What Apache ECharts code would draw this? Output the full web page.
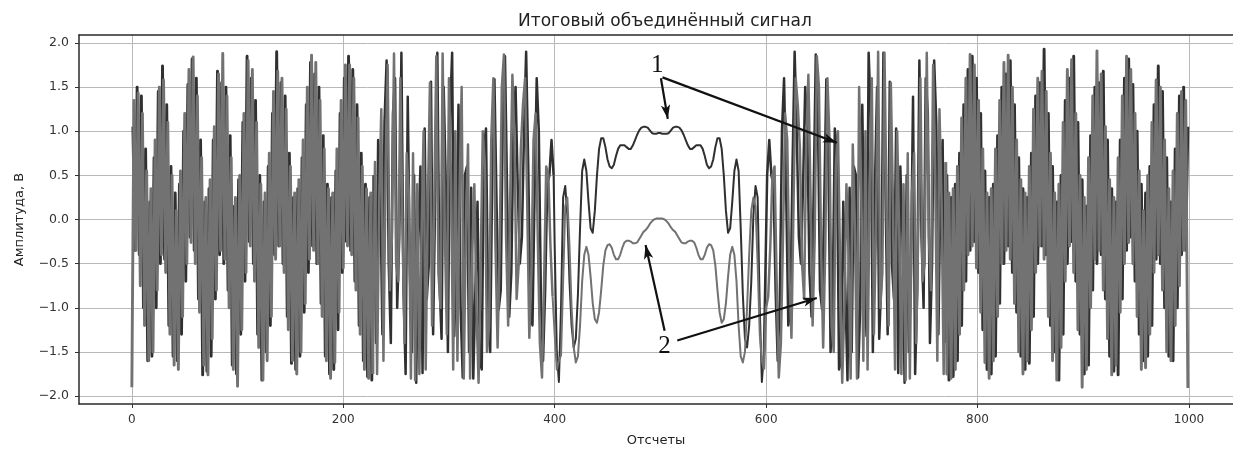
<!DOCTYPE html>
<html>
<head>
<meta charset="utf-8">
<title>Итоговый объединённый сигнал</title>
<script src="https://cdn.jsdelivr.net/npm/echarts@6.0.0/dist/echarts.min.js"></script>
<style>
  html, body { margin: 0; padding: 0; background: #fff; }
  #chart { width: 1233px; height: 452px; }
</style>
</head>
<body>
<div id="chart"></div>
<script>
// отсчёты идут с шагом 2, у каждого куска свой первый отсчёт
const STEP = 2;
const xTicks = [0, 200, 400, 600, 800, 1000];
const yTicks = [-2, -1.5, -1, -0.5, 0, 0.5, 1, 1.5, 2];

// сигнал 2 (светлый)
const lightStarts = [0, 230, 400, 600, 771];
const lightEdgeLeft = [
  -1.9, 1.35, -0.35, 1.43, -0.75, 1.2, -1.2, 0.55, -1.6, 0.35,
  -1.5, 0.9, -0.8, 1.5, -0.4, 1.58, -0.6, 1.1, -1.3, 0.5,
  -1.65, 0.1, -1.7, 0.55, -1.1, 1.2, -0.5, 1.7, -0.26, 1.84,
  -0.5, 1.4, -1.05, 0.7, -1.65, 0.25, -1.76, 0.45, -1.35, 1.05,
  -0.8, 1.65, -0.35, 1.88, -0.45, 1.4, -1.0, 0.7, -1.7, 0.25,
  -1.89, 0.5, -1.25, 1.2, -0.6, 1.8, -0.3, 1.7, -0.7, 1.1,
  -1.45, 0.4, -1.82, 0.3, -1.6, 0.75, -1.1, 1.45, -0.45, 1.68,
  -0.3, 1.6, -0.6, 1.25, -1.25, 0.6, -1.6, 0.3, -1.75, 0.45,
  -1.5, 0.9, -0.95, 1.5, -0.45, 1.86, -0.35, 1.78, -0.5, 1.35,
  -1.1, 0.8, -1.6, 0.35, -1.8, 0.3, -1.62, 0.8, -1.05, 1.35,
  -0.55, 1.75, -0.3, 1.75, -0.4, 1.6, -0.8, 1.15, -1.3, 0.6,
  -1.7, 0.35, -1.8, 0.3, -1.75
];
const lightWaveLeft = [
  0.65, -1.75, 0.2, 1.25, -1.6, 0.5, 1.75, -0.8, -0.2, 1.88,
  -0.5, -0.7, 1.6, -0.1, -1.4, 0.75, 0.3, -1.8, 0.75, -1.82,
  0.4, -1.75, -0.2, 1.0, -1.7, 0.2, 1.55, -1.2, 0.1, 1.85,
  -0.6, -1.0, 1.88, -0.1, -1.3, 1.6, 0.4, -1.7, 1.0, -1.6,
  0.3, 1.5, -1.8, -0.1, 0.85, -1.8, -0.4, 0.4, -1.0, -1.85,
  -0.5, 1.0, 0.6, -1.5, -1.2, 0.9, 1.6, -0.3, -1.45, -0.3,
  1.5, 1.87, -0.2, -1.2, 0.3, 1.64, 0.9, -0.9, -0.5, 0.8,
  1.3, 1.6, 0.2, -1.34, -0.6, 0.9, 1.2, -0.2, -1.4, -1.79,
  -0.7, 0.6, 0.5, -0.3, -0.87
];
const lightCentre = [
  -1.3, -1.7, -1.6, -1.54, -0.7, 0.15, 0.25, -0.3, -1.0, -1.45,
  -1.62, -1.55, -1.2, -0.7, -0.4, -0.31, -0.4, -0.65, -0.95, -1.13,
  -1.17, -1.05, -0.8, -0.52, -0.35, -0.29, -0.28, -0.32, -0.4, -0.45,
  -0.45, -0.4, -0.32, -0.26, -0.24, -0.24, -0.25, -0.27, -0.27, -0.26,
  -0.22, -0.18, -0.14, -0.12, -0.09, -0.05, -0.02, 0.0, 0.01, 0.01,
  0.01, 0.01, 0.0, -0.02, -0.05, -0.09, -0.12, -0.14, -0.18, -0.22,
  -0.26, -0.27, -0.27, -0.25, -0.24, -0.24, -0.26, -0.32, -0.4, -0.45,
  -0.45, -0.4, -0.32, -0.28, -0.29, -0.35, -0.52, -0.8, -1.05, -1.17,
  -1.13, -0.95, -0.65, -0.4, -0.31, -0.4, -0.7, -1.2, -1.55, -1.62,
  -1.5, -1.0, -0.4, 0.1, 0.25, 0.15, -0.5, -1.3, -1.6, -1.7
];
const lightWaveRight = [
  -1.0, -0.87, -0.3, 0.5, 0.6, -0.7, -1.79, -1.4, -0.2, 1.2,
  0.9, -0.6, -1.34, 0.2, 1.6, 1.3, 0.8, -0.5, -0.9, 0.9,
  1.64, 0.3, -1.2, -0.2, 1.85, 1.5, -0.3, -1.45, -0.3, 1.6,
  0.9, -1.2, -1.5, 0.6, 1.0, -0.5, -1.85, -1.0, 0.4, -0.4,
  -1.8, 0.85, -0.1, -1.8, 1.5, 0.3, -1.6, 1.0, -1.7, 0.4,
  1.6, -1.3, -0.1, 1.9, -1.0, -0.6, 1.89, 0.1, -1.2, 1.55,
  0.2, -1.7, 1.0, -0.2, -1.75, 0.4, -1.82, 0.75, -1.8, 0.3,
  0.75, -1.4, -0.1, 1.6, -0.7, -0.5, 1.89, -0.2, -0.8, 1.75,
  0.5, -1.6, 1.25, 0.2, -1.75, 0.65
];
const lightEdgeRight = [
  -1.75, 0.3, -1.8, 0.35, -1.7,
  0.6, -1.3, 1.15, -0.8, 1.6, -0.4, 1.87, -0.3, 1.75, -0.55,
  1.35, -1.05, 0.8, -1.62, 0.3, -1.8, 0.35, -1.6, 0.8, -1.1,
  1.35, -0.5, 1.78, -0.35, 1.86, -0.45, 1.5, -0.95, 0.9, -1.5,
  0.45, -1.75, 0.3, -1.6, 0.6, -1.25, 1.25, -0.6, 1.6, -0.3,
  1.68, -0.45, 1.45, -1.1, 0.75, -1.6, 0.3, -1.82, 0.4, -1.45,
  1.1, -0.7, 1.7, -0.3, 1.81, -0.6, 1.2, -1.25, 0.5, -1.9,
  0.25, -1.7, 0.7, -1.0, 1.4, -0.45, 1.91, -0.35, 1.65, -0.8,
  1.05, -1.35, 0.45, -1.76, 0.25, -1.65, 0.7, -1.05, 1.4, -0.5,
  1.85, -0.26, 1.7, -0.5, 1.2, -1.1, 0.55, -1.7, 0.1, -1.68,
  0.5, -1.3, 1.1, -0.6, 1.58, -0.4, 1.5, -0.8, 0.9, -1.5,
  0.35, -1.6, 0.55, -1.2, 1.2, -0.75, 1.45, -0.35, 1.35, -1.91
];

// сигнал 1 (тёмный)
const darkStarts = [1, 231, 400, 601, 771];
const darkEdgeLeft = [
  1.05, -0.35, 1.5, -0.4, 1.4, -1.0, 0.8, -1.6, 0.2, -1.55,
  0.7, -1.0, 1.45, -0.5, 1.74, -0.45, 1.3, -1.2, 0.6, -1.55,
  0.3, -1.6, 0.4, -1.3, 1.0, -0.7, 1.53, -0.2, 1.82, -0.35,
  1.6, -0.9, 0.9, -1.76, 0.2, -1.72, 0.35, -1.55, 0.9, -0.9,
  1.68, -0.4, 1.55, -0.5, 1.5, -0.8, 0.95, -1.65, 0.15, -1.75,
  0.45, -1.3, 1.1, -0.7, 1.85, -0.25, 1.6, -0.5, 1.35, -1.3,
  0.5, -1.82, 0.2, -1.5, 0.6, -1.2, 1.2, -0.4, 1.9, -0.3,
  1.55, -0.5, 1.4, -1.1, 0.75, -1.63, 0.25, -1.7, 0.35, -1.55,
  0.7, -1.05, 1.3, -0.6, 1.78, -0.3, 1.65, -0.5, 1.5, -0.95,
  0.95, -1.55, 0.4, -1.75, 0.25, -1.7, 0.55, -1.25, 1.2, -0.6,
  1.6, -0.25, 1.85, -0.35, 1.7, -0.7, 1.3, -1.2, 0.75, -1.6,
  0.4, -1.78, 0.25, -1.82, 0.5
];
const darkWaveLeft = [
  -1.4, 0.9, 0.4, -1.3, 1.1, 1.8, -0.5, -1.4, 1.2, 1.6,
  -1.0, -0.2, 1.89, -0.8, -1.75, 1.39, -0.6, -1.5, 0.5, -1.85,
  -0.2, 0.6, -1.74, 1.03, -0.9, -0.5, 1.56, -1.3, 0.3, 1.89,
  -0.7, -1.35, 1.5, 0.4, -1.5, 1.2, 1.89, -1.32, -0.4, 1.3,
  -1.0, -1.79, 0.5, 0.6, -1.5, 0.36, -1.8, -0.8, 0.2, -1.6,
  -1.7, 0.8, 1.03, -0.9, -1.5, 0.6, 1.59, 0.2, -1.02, -0.8,
  1.2, 1.85, 0.3, -1.1, -0.6, 1.0, 1.5, 0.4, -0.5, -0.2,
  1.0, 1.9, 0.6, -1.0, -1.2, 0.3, 1.6, 1.0, -0.9, -1.6,
  -0.8, 0.4, 0.5, 0.9, 0.5
];
const darkCentre = [
  -0.3, -1.5, -1.84, -1.0, 0.25, 0.38, 0.05, -0.7, -1.2, -1.45,
  -1.35, -0.85, -0.1, 0.55, 0.68, 0.55, 0.2, -0.1, -0.15, 0.1,
  0.5, 0.8, 0.92, 0.92, 0.82, 0.68, 0.6, 0.58, 0.62, 0.72,
  0.8, 0.84, 0.84, 0.84, 0.82, 0.8, 0.8, 0.84, 0.9, 0.96,
  1.01, 1.04, 1.05, 1.05, 1.04, 1.01, 0.98, 0.97, 0.97, 0.98,
  0.98, 0.97, 0.97, 0.97, 0.98, 1.01, 1.04, 1.05, 1.05, 1.04,
  1.01, 0.96, 0.9, 0.84, 0.8, 0.8, 0.82, 0.84, 0.84, 0.84,
  0.8, 0.72, 0.62, 0.58, 0.6, 0.68, 0.82, 0.92, 0.92, 0.8,
  0.5, 0.1, -0.15, -0.1, 0.2, 0.55, 0.68, 0.55, -0.1, -0.85,
  -1.35, -1.45, -1.2, -0.7, 0.05, 0.38, 0.25, -1.0, -1.84, -1.5
];
const darkWaveRight = [
  0.5, 0.9, 0.5, 0.4, -0.8, -1.6, -0.9, 1.0, 1.6, 0.3,
  -1.2, -1.0, 0.6, 1.9, 1.0, -0.2, -0.5, 0.4, 1.5, 1.0,
  -0.6, -1.1, 0.3, 1.87, 1.2, -0.8, -1.02, 0.2, 1.59, 0.6,
  -1.5, -0.9, 1.03, 0.8, -1.7, -1.6, 0.2, -0.8, -1.82, 0.36,
  -1.5, 0.6, 0.5, -1.79, -1.0, 1.3, -0.4, -1.32, 1.89, 1.2,
  -1.5, 0.4, 1.5, -1.35, -0.7, 1.89, 0.3, -1.3, 1.56, -0.5,
  -0.9, 1.03, -1.74, 0.6, -0.2, -1.85, 0.5, -1.5, -0.6, 1.39,
  -1.75, -0.8, 1.8, -0.2, -1.0, 1.6, 1.2, -1.4, -0.5, 1.8,
  1.1, -1.3, 0.4, 0.9, -1.4
];
const darkEdgeRight = [
  0.5, -1.82, 0.25, -1.78, 0.4,
  -1.6, 0.75, -1.2, 1.3, -0.7, 1.7, -0.35, 1.85, -0.25, 1.6,
  -0.6, 1.2, -1.25, 0.55, -1.7, 0.25, -1.75, 0.4, -1.55, 0.95,
  -0.95, 1.5, -0.5, 1.65, -0.3, 1.8, -0.6, 1.3, -1.05, 0.7,
  -1.55, 0.35, -1.7, 0.25, -1.63, 0.75, -1.1, 1.4, -0.5, 1.55,
  -0.3, 1.93, -0.4, 1.2, -1.2, 0.6, -1.5, 0.2, -1.82, 0.5,
  -1.3, 1.35, -0.5, 1.6, -0.25, 1.85, -0.7, 1.1, -1.3, 0.45,
  -1.75, 0.15, -1.65, 0.95, -0.8, 1.5, -0.5, 1.55, -0.4, 1.68,
  -0.9, 0.9, -1.55, 0.35, -1.72, 0.2, -1.76, 0.9, -0.9, 1.6,
  -0.35, 1.82, -0.2, 1.53, -0.7, 1.0, -1.3, 0.4, -1.6, 0.3,
  -1.55, 0.6, -1.2, 1.3, -0.45, 1.74, -0.5, 1.45, -1.0, 0.7,
  -1.55, 0.2, -1.6, 0.8, -1.0, 1.4, -0.4, 1.5, -0.35, 1.05
];

// стрелки и цифры на рисунке, в единицах осей
const arrows = [
  [[500.5, 1.6], [507, 1.14]],
  [[502, 1.61], [667, 0.87]],
  [[504, -1.26], [486, -0.29]],
  [[516, -1.37], [648, -0.89]]
];
const marks = [
  { text: "1", at: [497, 1.74] },
  { text: "2", at: [504, -1.44] }
];

// толщина линии для каждого куска: края сливаются в заливку, центр тоньше
const pieceWidths = [2.9, 2.5, 2.0, 2.5, 2.9];

function seg(start, vals) {
  return vals.map((v, i) => [start + i * STEP, v]);
}

// каждый кусок начинается с последней точки предыдущего, чтобы линия не рвалась
function pieces(starts, parts) {
  const out = [];
  parts.forEach((vals, k) => {
    const pts = seg(starts[k], vals);
    if (k > 0) {
      const prev = out[k - 1];
      pts.unshift(prev[prev.length - 1]);
    }
    out.push(pts);
  });
  return out;
}

const dark = pieces(darkStarts, [darkEdgeLeft, darkWaveLeft, darkCentre, darkWaveRight, darkEdgeRight]);
const light = pieces(lightStarts, [lightEdgeLeft, lightWaveLeft, lightCentre, lightWaveRight, lightEdgeRight]);

const DARK = "#303030";
const LIGHT = "#727272";

function lineSeries(name, data, color, width, z) {
  return {
    name: name,
    type: "line",
    data: data,
    showSymbol: false,
    symbol: "none",
    lineStyle: { color: color, width: width, join: "round" },
    z: z
  };
}

const font = "DejaVu Sans";
const minus = (v) => (v < 0 ? "\u2212" : "") + Math.abs(v).toFixed(1);

const series = [];
dark.forEach((pts, k) => series.push(lineSeries("сигнал 1", pts, DARK, pieceWidths[k], 2)));
light.forEach((pts, k) => series.push(lineSeries("сигнал 2", pts, LIGHT, pieceWidths[k], 3)));
series.push({
  name: "подписи",
  type: "line",
  data: [],
  z: 5,
  markLine: {
    silent: true,
    animation: false,
    symbol: ["none", "arrow"],
    symbolSize: [7, 14],
    label: { show: false },
    lineStyle: { color: "#111", width: 2.2, type: "solid" },
    data: arrows.map(([a, b]) => [{ coord: a }, { coord: b }])
  },
  markPoint: {
    silent: true,
    animation: false,
    symbol: "circle",
    symbolSize: 1,
    itemStyle: { color: "rgba(0,0,0,0)" },
    label: {
      show: true,
      position: "inside",
      fontFamily: "Liberation Serif",
      fontSize: 25,
      color: "#111",
      formatter: (p) => p.name
    },
    data: marks.map((m) => ({ name: m.text, coord: m.at }))
  }
});

const chart = echarts.init(document.getElementById("chart"));
const option = {
  animation: false,
  backgroundColor: "#ffffff",
  title: {
    text: "Итоговый объединённый сигнал",
    left: 660,
    top: 8,
    textAlign: "center",
    textStyle: { fontFamily: font, fontSize: 17, fontWeight: "normal", color: "#222" }
  },
  // правая граница поля уходит за край картинки
  grid: { left: 79, top: 35, right: 0, height: 374 },
  xAxis: [
    {
      type: "value",
      min: -50,
      max: 1041.7,
      name: "Отсчеты",
      nameLocation: "middle",
      nameGap: 30,
      nameTextStyle: { fontFamily: font, fontSize: 13, color: "#222" },
      axisLine: { show: true, onZero: false, lineStyle: { color: "#2a2a2a", width: 1.5 } },
      axisTick: { show: true, length: 4, customValues: xTicks, lineStyle: { color: "#333" } },
      axisLabel: {
        customValues: xTicks,
        margin: 10,
        fontFamily: font,
        fontSize: 12,
        color: "#333",
        formatter: (v) => String(v)
      },
      splitLine: { show: true, lineStyle: { color: "#b8b8b8", width: 1 } }
    },
    {
      type: "value",
      position: "top",
      min: -50,
      max: 1041.7,
      axisLine: { show: true, onZero: false, lineStyle: { color: "#2a2a2a", width: 1.5 } },
      axisTick: { show: false },
      axisLabel: { show: false },
      splitLine: { show: false }
    }
  ],
  yAxis: {
    type: "value",
    min: -2.09,
    max: 2.09,
    name: "Амплитуда, В",
    nameLocation: "middle",
    nameGap: 53,
    nameTextStyle: { fontFamily: font, fontSize: 13, color: "#222" },
    axisLine: { show: true, onZero: false, lineStyle: { color: "#2a2a2a", width: 1.5 } },
    axisTick: { show: true, length: 4, customValues: yTicks, lineStyle: { color: "#333" } },
    axisLabel: {
      customValues: yTicks,
      margin: 10,
      fontFamily: font,
      fontSize: 12.5,
      color: "#333",
      formatter: minus
    },
    splitLine: { show: true, lineStyle: { color: "#b8b8b8", width: 1 } }
  },
  series: series
};
chart.setOption(option);
</script>
</body>
</html>
